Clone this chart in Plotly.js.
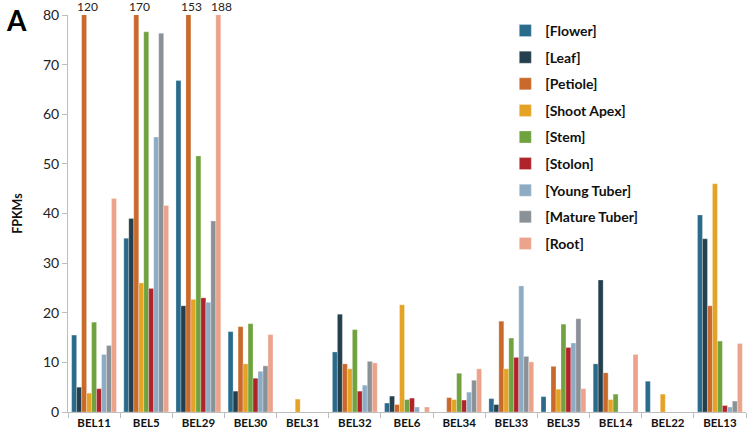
<!DOCTYPE html>
<html>
<head>
<meta charset="utf-8">
<script src="https://cdn.plot.ly/plotly-3.0.1.min.js"></script>
<style>html,body{margin:0;padding:0;background:#fff;}#chart{width:748px;height:435px;}</style>
</head>
<body>
<div id="chart"></div>
<script>
var categories = ["BEL11","BEL5","BEL29","BEL30","BEL31","BEL32","BEL6","BEL34","BEL33","BEL35","BEL14","BEL22","BEL13"];
var seriesNames = ["[Flower]","[Leaf]","[Petiole]","[Shoot Apex]","[Stem]","[Stolon]","[Young Tuber]","[Mature Tuber]","[Root]"];
var flower      = [15.5, 35.0, 66.8, 16.2, 0, 12.1, 1.8, 0,   2.7, 3.1, 9.7, 6.2, 39.7];
var leaf        = [5.0,  39.0, 21.4, 4.2,  0, 19.7, 3.2, 0,   1.5, 0,   26.6, 0,  34.9];
var petiole     = [120,  170,  153,  17.2, 0, 9.7,  1.5, 2.9, 18.3, 9.2, 7.9, 0,   21.4];
var shootApex   = [3.8,  26.0, 22.7, 9.7,  2.6, 8.7, 21.6, 2.5, 8.7, 4.6, 2.5, 3.6, 46.0];
var stem        = [18.1, 76.6, 51.6, 17.8, 0, 16.6, 2.5, 7.8, 14.9, 17.7, 3.6, 0,  14.3];
var stolon      = [4.7,  24.9, 23.0, 6.8,  0, 4.2,  2.8, 2.4, 11.0, 13.0, 0,  0,   1.3];
var youngTuber  = [11.6, 55.4, 22.1, 8.2,  0, 5.4,  1.0, 4.0, 25.4, 13.9, 0,  0,   1.0];
var matureTuber = [13.4, 76.3, 38.5, 9.3,  0, 10.2, 0,   6.4, 11.2, 18.8, 0,  0,   2.2];
var root        = [43.0, 41.6, 188,  15.6, 0, 9.9,  1.0, 8.7, 10.1, 4.7, 11.6, 0,  13.8];
var yTicks = [0,10,20,30,40,50,60,70,80];

var seriesValues = [flower, leaf, petiole, shootApex, stem, stolon, youngTuber, matureTuber, root];
var colors = ["#2a6b8c","#243f4d","#c9692b","#e4a326","#70a33f","#b0232b","#8dacc3","#8b9297","#eba48b"];
var yMax = 80;
var bargap = 0.14;

var font = "Lato, 'Open Sans', 'DejaVu Sans', sans-serif";
var traces = seriesValues.map(function(vals, i){
  return {
    type: "bar", name: seriesNames[i], x: categories, y: vals,
    marker: {color: colors[i], line: {color: "rgba(255,255,255,0.45)", width: 0.6}},
    legendgroup: "g" + i,
    hoverinfo: "x+y+name"
  };
});

var annotations = [];
var n = seriesValues.length;
seriesValues.forEach(function(vals, i){
  vals.forEach(function(v, k){
    if (v > yMax) {
      var w = (1 - bargap) / n;
      annotations.push({
        x: k - (1 - bargap) / 2 + (i + 0.5) * w, y: yMax, xref: "x", yref: "y",
        text: String(v), showarrow: false, yanchor: "bottom", xshift: 3, yshift: -1,
        font: {family: font, size: 12, color: "#222"}
      });
    }
  });
});
annotations.push({
  xref: "paper", yref: "paper", x: -0.095, y: 1.035, xanchor: "left", yanchor: "top",
  text: "<b>A</b>", showarrow: false, font: {family: font, size: 28, color: "#000"}
});

var layout = {
  width: 748, height: 435,
  margin: {l: 68, r: 2, t: 15, b: 23},
  paper_bgcolor: "#fff", plot_bgcolor: "#fff",
  barmode: "group", bargap: bargap, bargroupgap: 0,
  font: {family: font, color: "#111"},
  xaxis: {
    type: "category", showgrid: false, zeroline: false,
    showline: true, linecolor: "#bdbdbd", linewidth: 1,
    ticks: "outside", tickson: "boundaries", ticklen: 5, tickcolor: "#bdbdbd",
    tickfont: {family: font, size: 11.5, color: "#111", weight: "bold"},
    fixedrange: true
  },
  yaxis: {
    range: [0, yMax], tickvals: yTicks, showgrid: false, zeroline: false,
    showline: true, linecolor: "#bdbdbd", linewidth: 1,
    ticks: "outside", ticklen: 5, tickcolor: "#bdbdbd",
    tickfont: {family: font, size: 14, color: "#222"},
    title: {text: "<b>FPKMs</b>", font: {family: font, size: 12.5, color: "#111"}, standoff: 17},
    fixedrange: true
  },
  legend: {
    x: 0.645, y: 1.0, xanchor: "left", yanchor: "top",
    traceorder: "grouped", tracegroupgap: 5.4,
    font: {family: font, size: 14, color: "#111", weight: "bold"},
    bgcolor: "rgba(0,0,0,0)"
  },
  annotations: annotations,
  showlegend: true
};

Plotly.newPlot("chart", traces, layout, {displayModeBar: false, staticPlot: true});
</script>
</body>
</html>
